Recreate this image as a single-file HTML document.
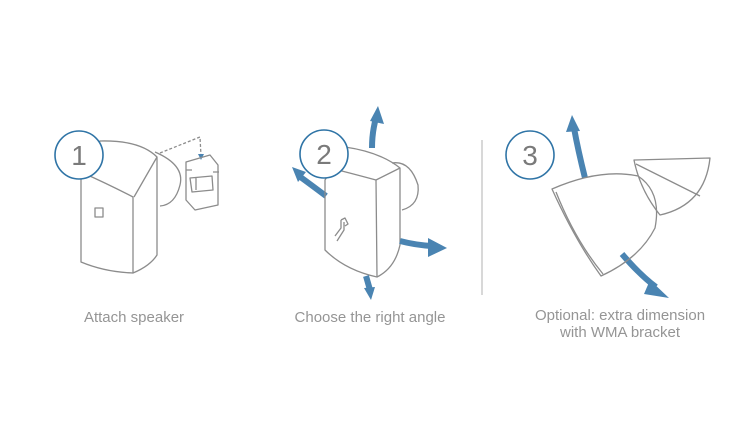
<!DOCTYPE html>
<html><head><style>
html,body{margin:0;padding:0;background:#fff;}
svg{display:block}
text{font-family:"Liberation Sans",sans-serif;fill:#959595;font-size:15px}
.l{fill:none;stroke:#8c8c8c;stroke-width:1.3;stroke-linejoin:round}
.c{fill:#fff;stroke:#2f74a6;stroke-width:1.6}
.n{font-size:28px;fill:#7a7a7a}
.a{fill:#4a84b2;stroke:none}
.as{fill:none;stroke:#4a84b2;stroke-width:6}
</style></head><body>
<svg width="750" height="433" viewBox="0 0 750 433">
<!-- Panel 1 -->
<path class="l" d="M160,153 L200,137 L201,156" stroke-dasharray="3,2"/>
<path class="a" d="M198,154 L204,154 L201,160Z"/>
<path class="l" d="M155,152 Q185,165 180,185 Q175,205 160,206"/>
<path class="l" d="M186,162 L210,155 L218,165 L218,205 L195,210 L186,200 Z"/>
<path class="l" d="M190,178 L212,176 L213,190 L192,192 Z M196,178 L196,190 M186,170 L192,170 M213,172 L219,172"/>
<path class="l" d="M100,141 Q140,140 157,157 L157,255 Q150,266 133,273 L133,197 Q110,185 81,172 Z" fill="#fff"/>
<path class="l" d="M157,157 L134,197 M81,172 L81,262 Q105,272 133,273"/>
<rect class="l" x="95" y="208" width="8" height="9"/>
<circle class="c" cx="79" cy="155" r="24"/>
<text class="n" x="79" y="165" text-anchor="middle">1</text>
<text x="134" y="322" text-anchor="middle">Attach speaker</text>
<!-- Panel 2 -->
<path class="as" d="M372,148 Q372,132 376,118"/>
<path class="a" d="M370,121 L378,106 L384,124Z"/>
<path class="as" d="M326,196 Q310,184 299,176"/>
<path class="a" d="M292,167 L306,172 L298,182Z"/>
<path class="l" d="M392,163 Q410,160 418,185 Q420,205 402,210"/>
<path class="l" d="M345,147 Q380,152 400,168 L400,245 Q395,268 377,277 Q345,270 325,250 L325,180 Z" fill="#fff"/>
<path class="l" d="M400,168 L376,180 L377,277 M376,180 Q350,173 330,168"/>
<path class="as" d="M400,241 Q415,245 432,246"/>
<path class="a" d="M428,238 L447,248 L428,257Z"/>
<path class="as" d="M366,276 L370,290"/>
<path class="a" d="M364,288 L371,300 L375,287Z"/>
<path class="l" d="M335,236 L341,228 L341,220 M341,220 L345,218 L348,224 L345,226 M337,241 L344,230 L344,222"/>
<circle class="c" cx="324" cy="154" r="24"/>
<text class="n" x="324" y="164" text-anchor="middle">2</text>
<text x="370" y="322" text-anchor="middle">Choose the right angle</text>
<!-- divider -->
<line x1="482" y1="140" x2="482" y2="295" stroke="#c4c4c4" stroke-width="1.3"/>
<!-- Panel 3 -->
<path class="as" d="M585,178 Q578,150 574,128"/>
<path class="a" d="M566,132 L572,115 L580,131Z"/>
<path class="l" d="M634,160 L710,158 Q705,205 660,215 Q640,190 634,160Z" fill="#fff"/>
<path class="l" d="M636,164 L700,196"/>
<path class="as" d="M622,254 Q640,275 656,287"/>
<path class="a" d="M650,280 L669,298 L644,294Z"/>
<path class="l" d="M552,189 Q600,168 638,176 Q662,192 655,228 Q640,258 601,276 Q575,240 552,189Z" fill="#fff"/>
<path class="l" d="M556,192 Q575,240 603,274"/>
<circle class="c" cx="530" cy="155" r="24"/>
<text class="n" x="530" y="165" text-anchor="middle">3</text>
<text x="620" y="320" text-anchor="middle">Optional: extra dimension</text>
<text x="620" y="337" text-anchor="middle">with WMA bracket</text>
</svg>
</body></html>
